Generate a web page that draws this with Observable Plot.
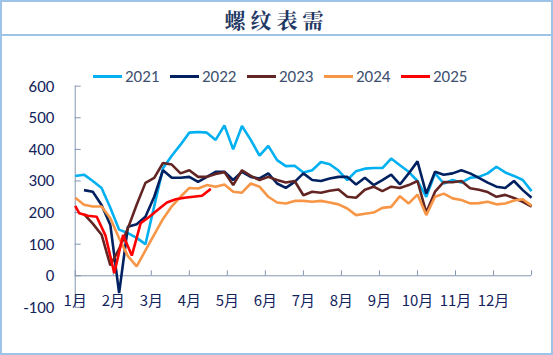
<!DOCTYPE html>
<html>
<head>
<meta charset="utf-8">
<script src="https://cdn.jsdelivr.net/npm/d3@7"></script>
<script src="https://cdn.jsdelivr.net/npm/@observablehq/plot@0.6"></script>
<style>
  body { margin: 0; background: #fff; }
  #wrap { position: relative; width: 553px; height: 355px; box-sizing: border-box; border: 2px solid #9DC3E6; overflow: hidden; }
  #title { position: absolute; left: 0; top: 0; width: 100%; height: 32px; border-bottom: 2px solid #9DC3E6;
    text-align: center; font-family: "Noto Serif CJK SC", "Noto Sans CJK SC", serif; font-weight: 700; font-size: 21px;
    letter-spacing: 5px; line-height: 34px; color: #1F3864; }
  #legend { position: absolute; top: 64px; left: 91px; display: flex; gap: 0; font-family: Carlito, Lato, "Liberation Sans", sans-serif; font-size: 17px; color: #404F70; }
  .item { display: flex; align-items: center; width: 77px; }
  .sw { width: 29px; height: 3px; margin-right: 3px; }
  #chart { position: absolute; left: -2px; top: -2px; }
</style>
</head>
<body>
<div id="wrap">
  <div id="chart"></div>
  <div id="title">螺纹表需</div>
  <div id="legend"></div>
</div>
<script>
const years = ["2021", "2022", "2023", "2024", "2025"];
const colors = ["#00B0F0", "#002060", "#632523", "#F79646", "#FF0000"];
const monthLabels = ["1月","2月","3月","4月","5月","6月","7月","8月","9月","10月","11月","12月"];
const yTicks = [-100, 0, 100, 200, 300, 400, 500, 600];

const v2021 = [316,320,300,278,215,146,135,120,100,220,340,380,415,453,455,453,430,476,400,474,430,380,411,366,347,348,327,334,360,353,333,303,331,339,341,341,371,350,329,300,250,324,292,303,295,310,313,324,345,327,316,303,268];
const v2022 = [null,271,266,224,161,-55,155,163,187,250,334,310,310,313,297,313,329,329,303,329,313,308,324,292,278,297,324,303,300,308,313,313,289,310,287,303,320,289,324,362,260,329,320,324,334,324,310,295,282,278,300,271,247];
const v2023 = [null,195,165,130,33,85,150,225,294,310,357,352,324,334,313,313,322,328,287,334,316,303,313,303,295,300,255,266,263,269,273,250,247,272,282,268,282,278,287,300,200,266,297,296,300,277,272,265,250,256,246,234,219];
const v2024 = [247,225,219,219,182,119,62,30,80,130,180,220,250,278,276,287,282,289,266,263,292,282,250,232,229,237,237,234,237,232,226,213,192,196,200,215,218,252,229,257,192,250,260,245,240,229,230,234,226,229,238,242,222];
const v2025 = [221,198,190,187,127,8,129,64,166,187,210,232,242,247,250,253,275];
const w2025 = [0,0.45,1.45,2.45,3.45,4.45,5.45,6.45,7.45,8.45,9.45,10.45,11.45,12.45,13.45,14.45,15.45];

const series = [v2021, v2022, v2023, v2024];
const rows = [];
series.forEach((vals, k) => vals.forEach((v, i) => rows.push({year: years[k], week: i, value: v})));
v2025.forEach((v, i) => rows.push({year: "2025", week: w2025[i], value: v}));

const nWeeks = v2021.length - 1;
const monthTicks = d3.range(13).map(m => ({pos: m * nWeeks / 12, label: m < 12 ? monthLabels[m] : ""}));

const axisColor = "#8497B0";
const textColor = "#13235B";

const chart = Plot.plot({
  width: 553,
  height: 355,
  marginLeft: 75,
  marginRight: 20,
  marginTop: 86,
  marginBottom: 47,
  style: {fontFamily: "Carlito, Lato, 'Liberation Sans', sans-serif", background: "transparent"},
  x: {domain: [0, nWeeks], axis: null},
  y: {domain: [-100, 600], axis: null},
  color: {domain: years, range: colors},
  marks: [
    Plot.ruleX([0], {stroke: axisColor, strokeWidth: 1}),
    Plot.ruleY([0], {stroke: axisColor, strokeWidth: 1}),
    Plot.ruleY(yTicks, {y: d => d, x1: 0, x2: 0, insetRight: -6, stroke: axisColor}),
    Plot.ruleX(monthTicks, {x: "pos", y1: 0, y2: 0, insetTop: -5, stroke: axisColor}),
    Plot.text(yTicks, {y: d => d, frameAnchor: "left", dx: -21, textAnchor: "end", text: d => String(d), fontSize: 17, fill: textColor}),
    Plot.text(monthTicks, {x: "pos", y: d => 0, dy: 26, text: "label", fontSize: 15, fill: textColor, fontFamily: "'Noto Sans CJK SC', sans-serif"}),
    Plot.line(rows, {x: "week", y: "value", z: "year", stroke: "year", strokeWidth: 2.6, strokeLinejoin: "miter", strokeLinecap: "butt"})
  ]
});
document.getElementById("chart").appendChild(chart);

const legend = document.getElementById("legend");
years.forEach((y, k) => {
  const it = document.createElement("div");
  it.className = "item";
  it.innerHTML = `<span class="sw" style="background:${colors[k]}"></span><span>${y}</span>`;
  legend.appendChild(it);
});
</script>
</body>
</html>
